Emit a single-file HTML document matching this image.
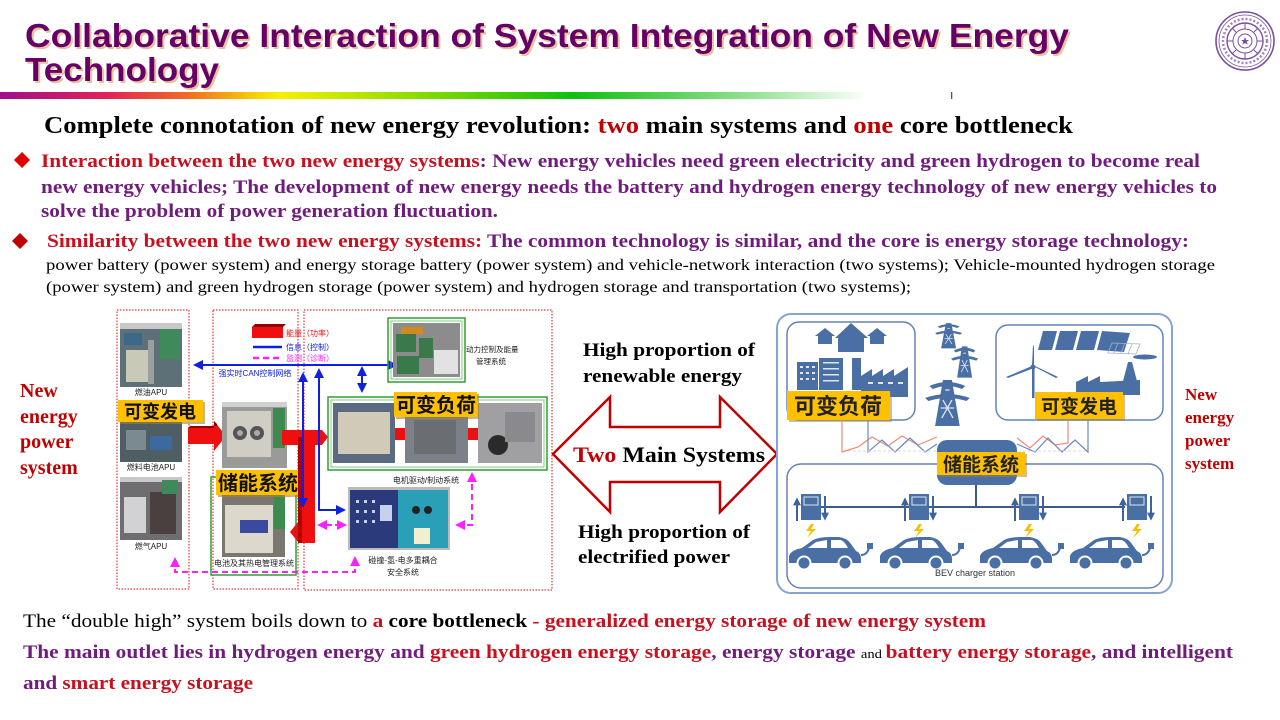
<!DOCTYPE html>
<html><head><meta charset="utf-8">
<style>
html,body{margin:0;padding:0;background:#fff;width:1280px;height:720px;overflow:hidden}
svg{display:block}
.serif{font-family:"Liberation Serif","Noto Serif CJK SC",serif}
.sans{font-family:"Liberation Sans","Noto Sans CJK SC",sans-serif}
.cjk{font-family:"Liberation Sans","Noto Sans CJK SC",sans-serif}
</style></head>
<body>
<svg width="1280" height="720" viewBox="0 0 1280 720" xmlns="http://www.w3.org/2000/svg">
<defs>
<linearGradient id="bar" x1="0" x2="1" y1="0" y2="0">
 <stop offset="0" stop-color="#a0108c"/>
 <stop offset="0.12" stop-color="#e0205a"/>
 <stop offset="0.22" stop-color="#f07020"/>
 <stop offset="0.32" stop-color="#f8f000"/>
 <stop offset="0.45" stop-color="#a0e000"/>
 <stop offset="0.66" stop-color="#10c010"/>
 <stop offset="0.86" stop-color="#90e090"/>
 <stop offset="1" stop-color="#ffffff"/>
</linearGradient>
<marker id="ab" viewBox="0 0 10 10" refX="8" refY="5" markerWidth="5" markerHeight="5" orient="auto-start-reverse"><path d="M0,0 L10,5 L0,10 z" fill="#1020e0"/></marker>
<marker id="am" viewBox="0 0 10 10" refX="8" refY="5" markerWidth="5" markerHeight="5" orient="auto-start-reverse"><path d="M0,0 L10,5 L0,10 z" fill="#ff20ff"/></marker>
<marker id="ad" viewBox="0 0 10 10" refX="8" refY="5" markerWidth="4" markerHeight="4" orient="auto-start-reverse"><path d="M0,0 L10,5 L0,10 z" fill="#3f6399"/></marker>
<g id="tower">
 <path d="M4,8 Q20,0 36,8 L33,11 Q20,5 7,11 Z" fill="#4a6fa5"/>
 <path d="M0,20 Q20,12 40,20 L37,23 Q20,17 3,23 Z" fill="#4a6fa5"/>
 <path d="M16,2 L24,2 L31,48 L9,48 Z" fill="#4a6fa5"/>
 <path d="M18,12 L22,12 M14,30 L26,30 M16,22 L25,40 M24,22 L15,40" stroke="#dfe6f0" stroke-width="1.2"/>
</g>
<g id="chg">
 <line x1="2" y1="27" x2="2" y2="5" stroke="#3f6399" stroke-width="2" marker-end="url(#ad)"/>
 <rect x="6" y="0" width="20" height="26" fill="#4a6fa5"/>
 <rect x="9" y="3" width="14" height="8" fill="none" stroke="#dfe6f0" stroke-width="1"/>
 <line x1="30" y1="2" x2="30" y2="25" stroke="#3f6399" stroke-width="2" marker-end="url(#ad)"/>
 <path d="M16,30 L11,37 L16,37 L12,44 L21,35 L16,35 L19,30 Z" fill="#f5c000"/>
</g>
<g id="car">
 <path d="M0,26 L0,19 Q2,13 13,11 L24,3 Q30,0 40,0 L50,0 Q58,1 62,7 L67,14 Q72,16 72,22 L72,26 Z" fill="#4a6fa5"/>
 <path d="M27,5 L38,3 L38,11 L19,11 Z M42,3 L52,3 Q56,5 59,11 L42,11 Z" fill="#fff"/>
 <circle cx="15" cy="26" r="6.5" fill="#4a6fa5" stroke="#fff" stroke-width="2"/>
 <circle cx="56" cy="26" r="6.5" fill="#4a6fa5" stroke="#fff" stroke-width="2"/>
 <path d="M72,18 Q78,18 80,11" stroke="#4a6fa5" stroke-width="2" fill="none"/>
 <rect x="78" y="6" width="6" height="6" fill="#4a6fa5"/>
</g>
</defs>

<!-- TITLE -->
<text class="sans" x="27" y="49" font-size="33" font-weight="bold" fill="#e9c0a0" textLength="1044" lengthAdjust="spacingAndGlyphs">Collaborative Interaction of System Integration of New Energy</text>
<text class="sans" x="27" y="83" font-size="33" font-weight="bold" fill="#e9c0a0" textLength="194" lengthAdjust="spacingAndGlyphs">Technology</text>
<text class="sans" x="25" y="47" font-size="33" font-weight="bold" fill="#660066" textLength="1044" lengthAdjust="spacingAndGlyphs">Collaborative Interaction of System Integration of New Energy</text>
<text class="sans" x="25" y="81" font-size="33" font-weight="bold" fill="#660066" textLength="194" lengthAdjust="spacingAndGlyphs">Technology</text>

<rect x="0" y="92" width="868" height="7" fill="url(#bar)"/>
<rect x="951" y="92" width="1.3" height="7" fill="#8a3090"/>

<!-- LOGO -->
<g fill="none" stroke="#7b4fa0">
 <circle cx="1245" cy="41" r="29" stroke-width="1.6"/>
 <circle cx="1245" cy="41" r="26" stroke-width="0.8"/>
 <circle cx="1245" cy="41" r="18" stroke-width="1.4"/>
 <circle cx="1245" cy="41" r="12" stroke-width="1"/>
 <circle cx="1245" cy="41" r="7" stroke-width="1"/>
 <path d="M1245,23 L1245,29 M1245,53 L1245,59 M1227,41 L1233,41 M1257,41 L1263,41 M1232,28 L1236,32 M1254,50 L1258,54 M1258,28 L1254,32 M1232,54 L1236,50" stroke-width="1"/>
 <circle cx="1245" cy="41" r="22" stroke-width="2.5" stroke-dasharray="2 2" opacity="0.7"/>
</g>
<path d="M1245,37 L1246.2,40 L1249,40 L1246.8,41.8 L1247.7,44.8 L1245,43 L1242.3,44.8 L1243.2,41.8 L1241,40 L1243.8,40 Z" fill="#7b4fa0"/>

<!-- HEADING -->
<text class="serif" x="44" y="133" font-size="24" font-weight="bold" fill="#000" textLength="1029" lengthAdjust="spacingAndGlyphs">Complete connotation of new energy revolution: <tspan fill="#c00000">two</tspan> main systems and <tspan fill="#c00000">one</tspan> core bottleneck</text>

<!-- BULLET 1 -->
<path d="M22,152 L30,160 L22,168 L14,160 Z" fill="#e00000"/>
<text class="serif" x="41" y="167" font-size="19" font-weight="bold" textLength="1159" lengthAdjust="spacingAndGlyphs"><tspan fill="#c8101e">Interaction between the two new energy systems</tspan><tspan fill="#701c7c">: New energy vehicles need green electricity and green hydrogen to become real</tspan></text>
<text class="serif" x="41" y="193" font-size="19" font-weight="bold" fill="#701c7c" textLength="1176" lengthAdjust="spacingAndGlyphs">new energy vehicles; The development of new energy needs the battery and hydrogen energy technology of new energy vehicles to</text>
<text class="serif" x="41" y="217" font-size="19" font-weight="bold" fill="#701c7c" textLength="457" lengthAdjust="spacingAndGlyphs">solve the problem of power generation fluctuation.</text>

<!-- BULLET 2 -->
<path d="M20,233 L28,241 L20,249 L12,241 Z" fill="#c00000"/>
<text class="serif" x="47" y="247" font-size="19" font-weight="bold" textLength="1142" lengthAdjust="spacingAndGlyphs"><tspan fill="#c8101e">Similarity between the two new energy systems:</tspan><tspan fill="#701c7c"> The common technology is similar, and the core is energy storage technology:</tspan></text>
<text class="serif" x="46" y="270" font-size="16" fill="#000" textLength="1169" lengthAdjust="spacingAndGlyphs">power battery (power system) and energy storage battery (power system) and vehicle-network interaction (two systems); Vehicle-mounted hydrogen storage</text>
<text class="serif" x="46" y="292" font-size="16" fill="#000" textLength="865" lengthAdjust="spacingAndGlyphs">(power system) and green hydrogen storage (power system) and hydrogen storage and transportation (two systems);</text>

<!-- LEFT LABEL -->
<g class="serif" font-size="20" font-weight="bold" fill="#c00000">
 <text x="20" y="397">New</text>
 <text x="20" y="423">energy</text>
 <text x="20" y="448">power</text>
 <text x="20" y="474">system</text>
</g>
<!-- RIGHT LABEL -->
<g class="serif" font-size="17" font-weight="bold" fill="#c00000">
 <text x="1185" y="400">New</text>
 <text x="1185" y="423">energy</text>
 <text x="1185" y="446">power</text>
 <text x="1185" y="469">system</text>
</g>

<!-- LEFT DIAGRAM -->
<g fill="none" stroke="#e03838" stroke-width="1.2" stroke-dasharray="1.5 1.5">
 <rect x="117" y="310" width="72" height="279"/>
 <rect x="213" y="310" width="85" height="279"/>
 <rect x="304" y="310" width="248" height="280"/>
</g>

<!-- photo 1 -->
<rect x="120" y="323" width="62" height="64" fill="#5d7078"/>
<rect x="120" y="323" width="62" height="6" fill="#c8c8c8"/>
<rect x="124" y="333" width="18" height="12" fill="#3a6a8a"/>
<rect x="126" y="350" width="28" height="32" fill="#c9c9b8"/>
<rect x="160" y="329" width="20" height="30" fill="#3f8a5a"/>
<rect x="148" y="340" width="6" height="44" fill="#9aa0a0"/>
<text class="cjk" x="151" y="395" font-size="8" text-anchor="middle" fill="#222">燃油APU</text>
<!-- photo 2 -->
<rect x="120" y="422" width="62" height="40" fill="#4e5e62"/>
<rect x="126" y="430" width="20" height="20" fill="#7a8a90"/>
<rect x="150" y="436" width="22" height="14" fill="#3a6aa0"/>
<text class="cjk" x="151" y="470" font-size="8" text-anchor="middle" fill="#222">燃料电池APU</text>
<!-- photo 3 -->
<rect x="120" y="477" width="62" height="63" fill="#6e6e70"/>
<rect x="120" y="477" width="62" height="5" fill="#c8c8c8"/>
<rect x="124" y="497" width="22" height="36" fill="#d2d2d4"/>
<rect x="150" y="492" width="26" height="42" fill="#4a4040"/>
<rect x="162" y="480" width="16" height="14" fill="#3f8a5a"/>
<text class="cjk" x="151" y="549" font-size="8" text-anchor="middle" fill="#222">燃气APU</text>
<!-- yellow 可变发电 -->
<rect x="120" y="402" width="85" height="22" fill="#a08040" opacity="0.6"/>
<rect x="118" y="400" width="85" height="22" fill="#ffc000"/>
<text class="cjk" x="160" y="418" font-size="18" font-weight="bold" text-anchor="middle" fill="#111">可变发电</text>

<!-- red arrow -->
<polygon points="188,428 214,428 214,421 226,436 214,451 214,444 188,444" fill="#ee1010"/>
<polygon points="188,428 214,428 214,421 217,424 217,426 190,426" fill="#900000"/>

<!-- center top photo -->
<rect x="222" y="402" width="65" height="66" fill="#9a9a98"/>
<rect x="222" y="402" width="65" height="5" fill="#d0d0d0"/>
<rect x="227" y="411" width="44" height="46" fill="#cfcdc4"/>
<circle cx="240" cy="433" r="7" fill="#555"/>
<circle cx="257" cy="433" r="7" fill="#555"/>
<circle cx="240" cy="433" r="3" fill="#aaa"/>
<circle cx="257" cy="433" r="3" fill="#aaa"/>
<rect x="273" y="408" width="12" height="40" fill="#3d8a50"/>
<!-- battery photo -->
<rect x="222" y="495" width="63" height="62" fill="#7a7670"/>
<rect x="225" y="505" width="48" height="48" fill="#dcd8cc"/>
<rect x="240" y="520" width="28" height="13" fill="#3a4aa0"/>
<rect x="274" y="497" width="11" height="32" fill="#3d8a50"/>
<rect x="211" y="477" width="85" height="98" fill="none" stroke="#30a030" stroke-width="1.5"/>
<!-- yellow 储能系统 -->
<rect x="218" y="472" width="84" height="25" fill="#a08040" opacity="0.6"/>
<rect x="216" y="470" width="84" height="25" fill="#ffc000"/>
<text class="cjk" x="258" y="490" font-size="20" font-weight="bold" text-anchor="middle" fill="#111">储能系统</text>
<text class="cjk" x="254" y="566" font-size="8" text-anchor="middle" fill="#222">电池及其热电管理系统</text>

<!-- legend -->
<rect x="252" y="327" width="31" height="11" fill="#ee1010"/>
<polygon points="252,327 255,324 286,324 283,327" fill="#900000"/>
<text class="cjk" x="286" y="336" font-size="8" fill="#ee1010">能量（功率）</text>
<line x1="253" y1="347" x2="282" y2="347" stroke="#1020e0" stroke-width="2.5"/>
<text class="cjk" x="286" y="350" font-size="8" fill="#1020e0">信息（控制）</text>
<line x1="253" y1="358" x2="282" y2="358" stroke="#ff20ff" stroke-width="2.5" stroke-dasharray="6 4"/>
<text class="cjk" x="286" y="361" font-size="8" fill="#ff20ff">监测（诊断）</text>

<!-- blue CAN line -->
<line x1="195" y1="365" x2="396" y2="365" stroke="#1020e0" stroke-width="2" marker-start="url(#ab)" marker-end="url(#ab)"/>
<text class="cjk" x="255" y="376" font-size="8" text-anchor="middle" fill="#1020e0">强实时CAN控制网络</text>

<!-- top right photo -->
<rect x="388" y="318" width="77" height="64" fill="none" stroke="#30a030" stroke-width="1.5"/>
<rect x="391" y="321" width="71" height="58" fill="none" stroke="#60c060" stroke-width="0.8"/>
<rect x="393" y="323" width="67" height="54" fill="#8c8c8c"/>
<rect x="396" y="334" width="20" height="18" fill="#3a7a4a"/>
<rect x="401" y="327" width="22" height="7" fill="#d08a20"/>
<rect x="419" y="338" width="14" height="20" fill="#3a7a4a"/>
<rect x="397" y="356" width="22" height="18" fill="#3a7a4a"/>
<rect x="434" y="350" width="24" height="24" fill="#e2e2e2"/>
<text class="cjk" x="466" y="352" font-size="7.5" fill="#222">动力控制及能量</text>
<text class="cjk" x="476" y="364" font-size="7.5" fill="#222">管理系统</text>

<line x1="362" y1="368" x2="362" y2="391" stroke="#1020e0" stroke-width="2" marker-start="url(#ab)" marker-end="url(#ab)"/>

<!-- variable load group -->
<rect x="328" y="397" width="219" height="73" fill="none" stroke="#30a030" stroke-width="1.5"/>
<rect x="331" y="400" width="213" height="67" fill="none" stroke="#60c060" stroke-width="0.8"/>
<rect x="333" y="403" width="62" height="60" fill="#5a6a80"/>
<rect x="338" y="412" width="52" height="42" fill="#cfcbb8"/>
<rect x="395" y="428" width="10" height="12" fill="#ee1010"/>
<rect x="405" y="403" width="63" height="60" fill="#7c8088"/>
<rect x="414" y="420" width="42" height="34" fill="#6a6e72"/>
<rect x="468" y="428" width="10" height="12" fill="#ee1010"/>
<rect x="478" y="403" width="64" height="60" fill="#a0a0a2"/>
<circle cx="498" cy="445" r="10" fill="#2a2a2a"/>
<rect x="505" y="412" width="30" height="30" fill="#8a8a8e"/>
<rect x="396" y="394" width="83" height="25" fill="#a08040" opacity="0.6"/>
<rect x="394" y="392" width="83" height="25" fill="#ffc000"/>
<text class="cjk" x="436" y="412" font-size="20" font-weight="bold" text-anchor="middle" fill="#111">可变负荷</text>
<text class="cjk" x="426" y="483" font-size="8" text-anchor="middle" fill="#222">电机驱动/制动系统</text>

<!-- safety system photo -->
<rect x="348" y="487" width="102" height="63" fill="#bbbbbb"/>
<rect x="350" y="490" width="48" height="58" fill="#2a3a7a"/>
<rect x="398" y="490" width="50" height="58" fill="#2aa0b8"/>
<g fill="#c8d0f0"><rect x="356" y="500" width="3" height="3"/><rect x="364" y="500" width="3" height="3"/><rect x="372" y="500" width="3" height="3"/><rect x="356" y="510" width="3" height="3"/><rect x="364" y="510" width="3" height="3"/><rect x="372" y="510" width="3" height="3"/><rect x="356" y="520" width="3" height="3"/><rect x="364" y="520" width="3" height="3"/><rect x="372" y="520" width="3" height="3"/><rect x="380" y="505" width="12" height="16"/></g>
<rect x="414" y="528" width="16" height="16" fill="#f0f0d0"/>
<circle cx="416" cy="510" r="4" fill="#222"/><circle cx="428" cy="510" r="4" fill="#222"/>
<text class="cjk" x="403" y="563" font-size="8" text-anchor="middle" fill="#222">碰撞-氢-电多重耦合</text>
<text class="cjk" x="403" y="575" font-size="8" text-anchor="middle" fill="#222">安全系统</text>

<!-- red T pipe -->
<polygon points="282,430 322,430 328,437 322,445 282,445" fill="#ee1010"/>
<rect x="298" y="437" width="17" height="106" fill="#ee1010"/>
<polygon points="298,522 290,532 298,542" fill="#ee1010"/>
<rect x="298" y="437" width="4" height="106" fill="#b00000"/>

<!-- blue lines -->
<line x1="303" y1="374" x2="303" y2="506" stroke="#1020e0" stroke-width="2" marker-start="url(#ab)" marker-end="url(#ab)"/>
<polyline points="319,370 319,510 344,510" fill="none" stroke="#1020e0" stroke-width="2" marker-start="url(#ab)" marker-end="url(#ab)"/>

<!-- magenta dashed -->
<polyline points="175,559 175,572 355,572 355,558" fill="none" stroke="#ff20ff" stroke-width="2" stroke-dasharray="6 4" marker-start="url(#am)" marker-end="url(#am)"/>
<line x1="319" y1="525" x2="345" y2="525" stroke="#ff20ff" stroke-width="2" stroke-dasharray="5 3" marker-start="url(#am)" marker-end="url(#am)"/>
<polyline points="457,525 472,525 472,474" fill="none" stroke="#ff20ff" stroke-width="2" stroke-dasharray="6 4" marker-start="url(#am)" marker-end="url(#am)"/>

<!-- CENTER DOUBLE ARROW -->
<text class="serif" x="583" y="356" font-size="19" font-weight="bold" fill="#000" textLength="172" lengthAdjust="spacingAndGlyphs">High proportion of</text>
<text class="serif" x="583" y="382" font-size="19" font-weight="bold" fill="#000" textLength="159" lengthAdjust="spacingAndGlyphs">renewable energy</text>
<polygon points="553,454 610,397 610,427 720,427 720,397 777,454 720,512 720,482 610,482 610,512" fill="#fff" stroke="#c00000" stroke-width="2.5" stroke-linejoin="miter"/>
<text class="serif" x="573" y="462" font-size="22" font-weight="bold" fill="#000" textLength="192" lengthAdjust="spacingAndGlyphs"><tspan fill="#c00000">Two</tspan> Main Systems</text>
<text class="serif" x="578" y="538" font-size="19" font-weight="bold" fill="#000" textLength="172" lengthAdjust="spacingAndGlyphs">High proportion of</text>
<text class="serif" x="578" y="563" font-size="19" font-weight="bold" fill="#000" textLength="152" lengthAdjust="spacingAndGlyphs">electrified power</text>

<!-- RIGHT DIAGRAM -->
<rect x="777" y="314" width="395" height="279" rx="14" fill="#fff" stroke="#86a4d2" stroke-width="2"/>
<rect x="787" y="322" width="128" height="98" rx="12" fill="none" stroke="#6383b5" stroke-width="1.5"/>
<rect x="996" y="325" width="167" height="95" rx="12" fill="none" stroke="#6383b5" stroke-width="1.5"/>
<rect x="787" y="464" width="376" height="124" rx="14" fill="none" stroke="#6383b5" stroke-width="1.5"/>

<!-- houses -->
<g fill="#4a6fa5">
 <polygon points="815,336 825,328 835,336 832,336 832,344 818,344 818,336"/>
 <polygon points="835,338 851,323 868,338 864,338 864,352 838,352 838,338"/>
 <polygon points="867,336 877,328 887,336 884,336 884,344 870,344 870,336"/>
 <rect x="797" y="362" width="21" height="28"/>
 <rect x="819" y="358" width="24" height="32"/>
 <rect x="852" y="358" width="9" height="32"/>
 <polygon points="861,397 861,376 872,369 872,376 883,369 883,376 894,369 894,376 908,367 908,397"/>
</g>
<g fill="#dfe6f0">
 <rect x="800" y="366" width="3" height="2"/><rect x="806" y="366" width="3" height="2"/><rect x="812" y="366" width="3" height="2"/>
 <rect x="800" y="372" width="3" height="2"/><rect x="806" y="372" width="3" height="2"/><rect x="812" y="372" width="3" height="2"/>
 <rect x="800" y="378" width="3" height="2"/><rect x="806" y="378" width="3" height="2"/><rect x="812" y="378" width="3" height="2"/>
 <rect x="823" y="362" width="16" height="1.5"/><rect x="823" y="368" width="16" height="1.5"/><rect x="823" y="374" width="16" height="1.5"/><rect x="823" y="380" width="16" height="1.5"/>
 <rect x="868" y="382" width="5" height="2"/><rect x="878" y="382" width="5" height="2"/><rect x="888" y="382" width="5" height="2"/><rect x="898" y="382" width="5" height="2"/>
</g>
<!-- towers -->
<use href="#tower" transform="translate(935,322) scale(0.68,0.55)"/>
<use href="#tower" transform="translate(951,345) scale(0.68,0.68)"/>
<use href="#tower" transform="translate(925,378) scale(1.12,1)"/>

<!-- renewable icons -->
<g fill="#4a6fa5">
 <polygon points="1043,331 1057,331 1052,350 1038,350"/>
 <polygon points="1060,331 1078,331 1073,350 1055,350"/>
 <polygon points="1081,331 1099,331 1094,350 1076,350"/>
 <polygon points="1102,331 1130,333 1124,352 1097,350"/>
 <rect x="1032" y="366" width="2.5" height="32"/>
 <circle cx="1033" cy="367" r="2.5"/>
 <polygon points="1032,366 1034,366 1034,347 1033,345"/>
 <polygon points="1032,366 1034,368 1008,378 1006,377"/>
 <polygon points="1033,366 1035,366 1058,377 1056,378"/>
 <polygon points="1076,395 1076,382 1088,376 1088,382 1100,376 1100,382 1140,380 1140,395"/>
 <polygon points="1122,385 1128,362 1132,362 1138,385"/>
 <ellipse cx="1145" cy="357" rx="12" ry="2.5"/>
</g>
<g fill="none" stroke="#9fb2d0" stroke-width="0.8"><path d="M1112,343 L1140,344 L1136,354 L1108,353 Z M1118,343 L1114,353 M1125,343 L1121,353 M1132,344 L1128,354"/></g>

<!-- yellow labels right -->
<rect x="789" y="393" width="103" height="29" fill="#a08040" opacity="0.5"/>
<rect x="787" y="391" width="103" height="29" fill="#ffc000"/>
<text class="cjk" x="838" y="414" font-size="22" font-weight="bold" text-anchor="middle" fill="#222">可变负荷</text>
<rect x="1037" y="394" width="88" height="27" fill="#a08040" opacity="0.5"/>
<rect x="1035" y="392" width="88" height="27" fill="#ffc000"/>
<text class="cjk" x="1079" y="413" font-size="19" font-weight="bold" text-anchor="middle" fill="#222">可变发电</text>

<!-- zigzags -->
<polyline points="842,420 842,452 858,447 872,437 888,446 902,436 918,445 937,437" fill="none" stroke="#f08a78" stroke-width="1.2"/>
<polyline points="868,420 868,452 882,440 895,452 910,438 925,452 937,444" fill="none" stroke="#6a8ac4" stroke-width="1.2"/>
<polyline points="1068,420 1068,443 1055,445 1043,436 1030,448 1017,438" fill="none" stroke="#f08a78" stroke-width="1.2"/>
<polyline points="1088,420 1088,452 1075,440 1062,452 1048,438 1035,452 1017,444" fill="none" stroke="#6a8ac4" stroke-width="1.2"/>
<line x1="848" y1="451" x2="1085" y2="451" stroke="#d8d8d0" stroke-width="1" stroke-dasharray="3 2"/>

<!-- storage center -->
<rect x="937" y="440" width="80" height="45" rx="10" fill="#4a6fa5"/>
<line x1="976" y1="485" x2="976" y2="507" stroke="#3a5a8a" stroke-width="2"/>
<line x1="820" y1="507" x2="1125" y2="507" stroke="#3a5a8a" stroke-width="2"/>
<rect x="939" y="454" width="88" height="23" fill="#a08040" opacity="0.5"/>
<rect x="937" y="452" width="88" height="23" fill="#ffc000"/>
<text class="cjk" x="981" y="471" font-size="19" font-weight="bold" text-anchor="middle" fill="#222">储能系统</text>

<!-- chargers and cars -->
<use href="#chg" transform="translate(795,494)"/>
<use href="#chg" transform="translate(903,494)"/>
<use href="#chg" transform="translate(1013,494)"/>
<use href="#chg" transform="translate(1121,494)"/>
<use href="#car" transform="translate(789,537)"/>
<use href="#car" transform="translate(880,537)"/>
<use href="#car" transform="translate(980,537)"/>
<use href="#car" transform="translate(1070,537)"/>
<text class="sans" x="975" y="576" font-size="9" text-anchor="middle" fill="#333">BEV charger station</text>

<!-- BOTTOM TEXT -->
<text class="serif" x="23" y="627" font-size="19" textLength="963" lengthAdjust="spacingAndGlyphs"><tspan fill="#000">The “double high” system boils down to </tspan><tspan fill="#c8101e" font-weight="bold">a</tspan><tspan fill="#000" font-weight="bold"> core bottleneck</tspan><tspan fill="#c8101e" font-weight="bold"> - generalized energy storage of new energy system</tspan></text>
<text class="serif" x="23" y="658" font-size="19" font-weight="bold" textLength="1210" lengthAdjust="spacingAndGlyphs"><tspan fill="#701c7c">The main outlet lies in hydrogen energy and </tspan><tspan fill="#c8101e">green hydrogen energy storage</tspan><tspan fill="#701c7c">, energy storage </tspan><tspan fill="#000" font-weight="normal" font-size="13">and </tspan><tspan fill="#c8101e">battery energy storage</tspan><tspan fill="#701c7c">, and intelligent</tspan></text>
<text class="serif" x="23" y="689" font-size="19" font-weight="bold" textLength="230" lengthAdjust="spacingAndGlyphs"><tspan fill="#701c7c">and</tspan><tspan fill="#c8101e"> smart energy storage</tspan></text>
</svg>
</body></html>
